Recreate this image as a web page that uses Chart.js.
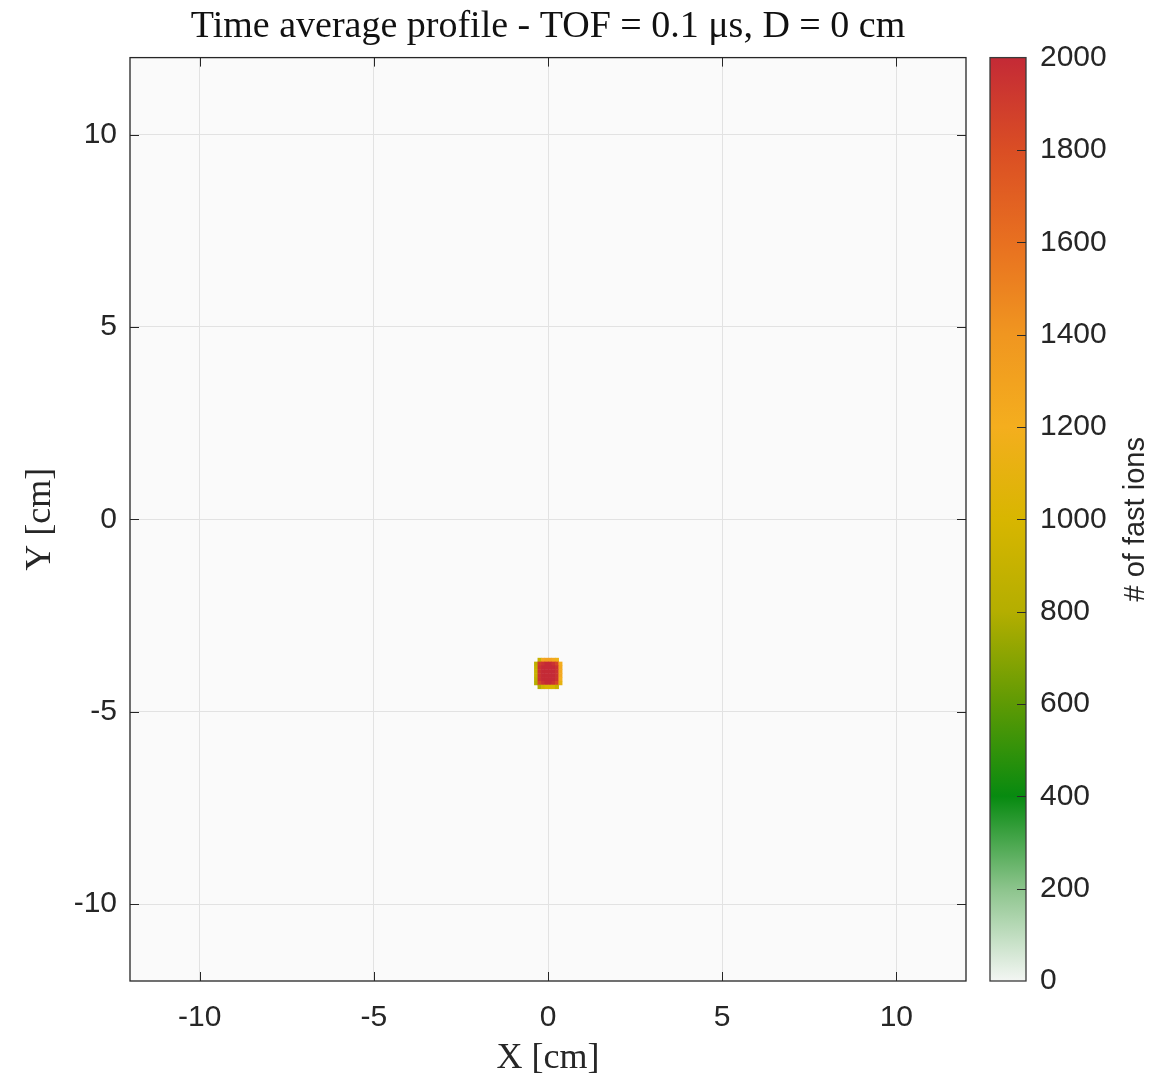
<!DOCTYPE html>
<html>
<head>
<meta charset="utf-8">
<script src="https://cdn.jsdelivr.net/npm/chart.js@4"></script>
<style>
  html, body { margin: 0; padding: 0; background: #fff; }
</style>
</head>
<body>
<canvas id="profileChart" width="1153" height="1080"></canvas>
<script>
// Axis ticks
const xTicks = [-10, -5, 0, 5, 10];
const yTicks = [-10, -5, 0, 5, 10];
const cbTicks = [0, 200, 400, 600, 800, 1000, 1200, 1400, 1600, 1800, 2000];

// Histogram cell centres (cm) and counts, rows from top to bottom
const cellX = [-0.35, -0.25, -0.15, -0.05, 0.05, 0.15, 0.25, 0.35];
const cellY = [-3.65, -3.75, -3.85, -3.95, -4.05, -4.15, -4.25, -4.35];
const counts = [
    [60, 900, 1250, 1300, 1300, 1250, 1150, 80],
    [850, 1900, 1950, 2000, 2000, 1950, 1850, 1200],
    [900, 1950, 2000, 2000, 2000, 2000, 1950, 1250],
    [900, 1950, 2000, 2000, 2000, 2000, 1950, 1250],
    [900, 1950, 2000, 2000, 2000, 2000, 1950, 1250],
    [850, 1950, 2000, 2000, 2000, 2000, 1950, 1200],
    [800, 1850, 1950, 2000, 2000, 1950, 1850, 1100],
    [50, 800, 950, 1000, 1000, 1000, 900, 60]
];

// Colormap
const cmapValues = [0, 200, 400, 600, 800, 1000, 1200, 1400, 1600, 1800, 2000];
const cmapColors = ['#f3f6f3', '#8cc48c', '#078a10', '#5e9a04', '#b4ae00', '#d8b600',
                    '#f4ae1e', '#f09620', '#e87020', '#da4e24', '#c42a36'];

const cbMax = 2000;
const cellSize = 0.1;

function hexToRgb(h) {
    return [parseInt(h.slice(1, 3), 16), parseInt(h.slice(3, 5), 16), parseInt(h.slice(5, 7), 16)];
}

function colorFor(v) {
    if (v <= cmapValues[0]) return cmapColors[0];
    for (let i = 1; i < cmapValues.length; i++) {
        if (v <= cmapValues[i]) {
            const t = (v - cmapValues[i - 1]) / (cmapValues[i] - cmapValues[i - 1]);
            const a = hexToRgb(cmapColors[i - 1]);
            const b = hexToRgb(cmapColors[i]);
            const c = a.map((x, k) => Math.round(x + (b[k] - x) * t));
            return `rgb(${c[0]}, ${c[1]}, ${c[2]})`;
        }
    }
    return cmapColors[cmapColors.length - 1];
}

const axisColor = '#262626';
const tickFont = { family: 'Liberation Sans, Arial, sans-serif', size: 30 };
const serifFont = 'Liberation Serif, Times New Roman, serif';

const heatmapPlugin = {
    id: 'heatmap',
    beforeDraw(chart) {
        const { ctx, chartArea: a } = chart;
        ctx.save();
        ctx.fillStyle = '#fafafa';
        ctx.fillRect(a.left, a.top, a.right - a.left, a.bottom - a.top);
        ctx.restore();
    },
    beforeDatasetsDraw(chart) {
        const { ctx, scales } = chart;
        ctx.save();
        counts.forEach((row, r) => {
            row.forEach((v, c) => {
                if (v < 100) return;
                const x0 = scales.x.getPixelForValue(cellX[c] - cellSize / 2);
                const x1 = scales.x.getPixelForValue(cellX[c] + cellSize / 2);
                const y0 = scales.y.getPixelForValue(cellY[r] + cellSize / 2);
                const y1 = scales.y.getPixelForValue(cellY[r] - cellSize / 2);
                ctx.fillStyle = colorFor(v);
                ctx.fillRect(x0, y0, x1 - x0 + 0.5, y1 - y0 + 0.5);
            });
        });
        ctx.restore();
    },
    afterDraw(chart) {
        const { ctx, chartArea: a, scales } = chart;
        const tl = 9;
        ctx.save();

        // axes box with inward ticks
        ctx.strokeStyle = axisColor;
        ctx.lineWidth = 1.3;
        ctx.strokeRect(a.left, a.top, a.right - a.left, a.bottom - a.top);
        ctx.lineWidth = 1;
        ctx.beginPath();
        xTicks.forEach(v => {
            const px = Math.round(scales.x.getPixelForValue(v)) + 0.5;
            ctx.moveTo(px, a.bottom); ctx.lineTo(px, a.bottom - tl);
            ctx.moveTo(px, a.top); ctx.lineTo(px, a.top + tl);
        });
        yTicks.forEach(v => {
            const py = Math.round(scales.y.getPixelForValue(v)) + 0.5;
            ctx.moveTo(a.left, py); ctx.lineTo(a.left + tl, py);
            ctx.moveTo(a.right, py); ctx.lineTo(a.right - tl, py);
        });
        ctx.stroke();

        // colorbar
        const cb = scales.cb;
        const cbLeft = a.right + 24;
        const cbRight = a.right + 60;
        const yBot = cb.getPixelForValue(0);
        const yTop = cb.getPixelForValue(cbMax);
        const grad = ctx.createLinearGradient(0, yBot, 0, yTop);
        cmapValues.forEach((v, i) => grad.addColorStop(v / cbMax, cmapColors[i]));
        ctx.fillStyle = grad;
        ctx.fillRect(cbLeft, yTop, cbRight - cbLeft, yBot - yTop);
        ctx.strokeStyle = '#3a3a3a';
        ctx.lineWidth = 1.3;
        ctx.strokeRect(cbLeft, yTop, cbRight - cbLeft, yBot - yTop);
        ctx.lineWidth = 1;
        ctx.strokeStyle = '#2a2a2a';
        ctx.beginPath();
        cbTicks.forEach(v => {
            if (v === 0 || v === cbMax) return;
            const py = Math.round(cb.getPixelForValue(v)) + 0.5;
            ctx.moveTo(cbRight, py); ctx.lineTo(cbRight - tl, py);
        });
        ctx.stroke();

        // colorbar label, reading bottom to top
        ctx.translate(a.right + 170, (a.top + a.bottom) / 2);
        ctx.rotate(-Math.PI / 2);
        ctx.fillStyle = axisColor;
        ctx.font = '29px ' + tickFont.family;
        ctx.textAlign = 'center';
        ctx.textBaseline = 'middle';
        ctx.fillText('# of fast ions', 0, 0);
        ctx.restore();
    }
};

const ticksOnly = vals => scale => { scale.ticks = vals.map(v => ({ value: v })); };
const noEdgePad = width => s => {
    s.width = width;
    s.paddingTop = 0;
    s.paddingBottom = 0;
};
const plainLabel = v => String(v);

new Chart(document.getElementById('profileChart'), {
    type: 'scatter',
    data: { datasets: [] },
    plugins: [heatmapPlugin],
    options: {
        responsive: false,
        animation: false,
        layout: { padding: 0 },
        plugins: {
            legend: { display: false },
            tooltip: { enabled: false },
            title: {
                display: true,
                fullSize: false,
                text: 'Time average profile - TOF = 0.1 μs, D = 0 cm',
                color: '#111',
                font: { family: serifFont, size: 38, weight: 'normal' },
                padding: { top: 4, bottom: 8 }
            }
        },
        scales: {
            x: {
                type: 'linear',
                min: -12,
                max: 12,
                afterBuildTicks: ticksOnly(xTicks),
                afterFit: s => { s.height = 99; },
                grid: { color: '#e2e2e2', drawTicks: false },
                border: { display: false },
                ticks: { color: axisColor, font: tickFont, padding: 19, maxRotation: 0, callback: plainLabel },
                title: {
                    display: true,
                    text: 'X [cm]',
                    color: axisColor,
                    font: { family: serifFont, size: 36 },
                    padding: { bottom: 0 }
                }
            },
            y: {
                type: 'linear',
                min: -12,
                max: 12,
                afterBuildTicks: ticksOnly(yTicks),
                afterFit: noEdgePad(130),
                grid: { color: '#e2e2e2', drawTicks: false },
                border: { display: false },
                ticks: { color: axisColor, font: tickFont, padding: 13, callback: plainLabel },
                title: {
                    display: true,
                    text: 'Y [cm]',
                    color: axisColor,
                    font: { family: serifFont, size: 36 },
                    padding: { top: 19 }
                }
            },
            cb: {
                type: 'linear',
                position: 'right',
                min: 0,
                max: cbMax,
                afterBuildTicks: ticksOnly(cbTicks),
                afterFit: noEdgePad(187),
                grid: { drawOnChartArea: false, drawTicks: false },
                border: { display: false },
                ticks: { color: axisColor, font: tickFont, padding: 74, callback: plainLabel }
            }
        }
    }
});
</script>
</body>
</html>
